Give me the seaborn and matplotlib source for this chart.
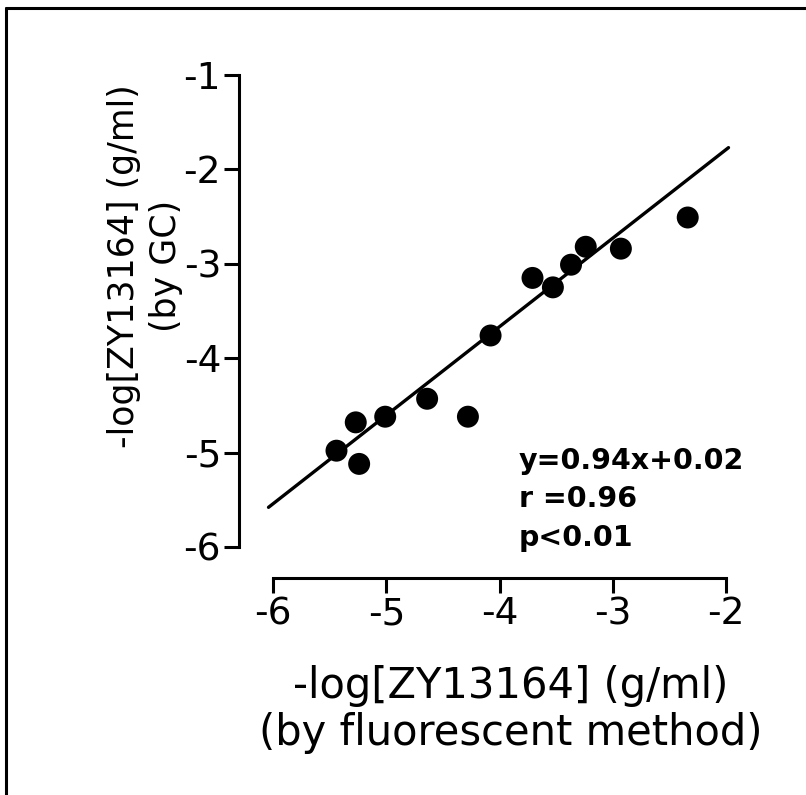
import matplotlib
matplotlib.use("Agg")
import matplotlib.pyplot as plt
import seaborn as sns
import pandas as pd
from matplotlib.lines import Line2D

# data
fluor = [-5.44, -5.27, -5.24, -5.01, -4.64, -4.28, -4.08, -3.71, -3.53, -3.37, -3.24, -2.93, -2.34]
gc = [-4.98, -4.68, -5.12, -4.62, -4.43, -4.62, -3.76, -3.15, -3.25, -3.01, -2.82, -2.84, -2.51]
fit_x = [-6.04, -1.98]
fit_y = [-5.58, -1.77]
x_ticks = [-6, -5, -4, -3, -2]
y_ticks = [-6, -5, -4, -3, -2, -1]
stats_lines = ["y=0.94x+0.02", "r =0.96", "p<0.01"]
x_label = "-log[ZY13164] (g/ml)\n(by fluorescent method)"
y_label = "-log[ZY13164] (g/ml)\n(by GC)"

df = pd.DataFrame({"fluor": fluor, "gc": gc})
fit = pd.DataFrame({"x": fit_x, "y": fit_y})

sns.set_theme(style="ticks")
plt.rcParams["font.family"] = ["DejaVu Sans"]
plt.rcParams["text.color"] = "black"
plt.rcParams["axes.labelcolor"] = "black"
plt.rcParams["xtick.color"] = "black"
plt.rcParams["ytick.color"] = "black"

fig = plt.figure(figsize=(8.06, 7.95), dpi=100)
ax = fig.add_axes([0.3247, 0.3001, 0.5904, 0.6175])

sns.lineplot(data=fit, x="x", y="y", ax=ax, color="black", linewidth=2.4)
sns.scatterplot(data=df, x="fluor", y="gc", ax=ax, color="black", s=250,
                edgecolor="none", zorder=3)

ax.set_xlim(-6.1, -1.9)
ax.set_ylim(-6.1, -0.9)
ax.set_xticks(x_ticks)
ax.set_yticks(y_ticks)
ax.set_xticklabels([str(v) for v in x_ticks])
ax.set_yticklabels([str(v) for v in y_ticks])

for s in ["top", "right"]:
    ax.spines[s].set_visible(False)
ax.spines["left"].set_position(("outward", 16.3))
ax.spines["bottom"].set_position(("outward", 15.6))
ax.spines["left"].set_bounds(-6, -1)
ax.spines["bottom"].set_bounds(-6, -2)
for s in ["left", "bottom"]:
    ax.spines[s].set_linewidth(2.2)
    ax.spines[s].set_color("black")
ax.tick_params(axis="both", direction="out", length=11, width=2.2,
               labelsize=27, colors="black", pad=2)

ax.set_xlabel(x_label, fontsize=30, linespacing=1.15, color="black")
ax.set_ylabel(y_label, fontsize=25, linespacing=1.3, color="black")
ax.xaxis.set_label_coords(0.524, -0.222)
ax.yaxis.set_label_coords(-0.165, 0.592)

for i, line in enumerate(stats_lines):
    ax.text(0.54, 0.194 - i * 0.078, line, transform=ax.transAxes,
            fontsize=20.5, fontweight="bold", ha="left", va="center", color="black")

fig.add_artist(Line2D([0.0075, 1.0], [0.990, 0.990], color="black", linewidth=2.2,
                      transform=fig.transFigure))
fig.add_artist(Line2D([0.0075, 0.0075], [0.0, 0.990], color="black", linewidth=2.2,
                      transform=fig.transFigure))

fig.savefig("out.png", dpi=100, facecolor="white")
